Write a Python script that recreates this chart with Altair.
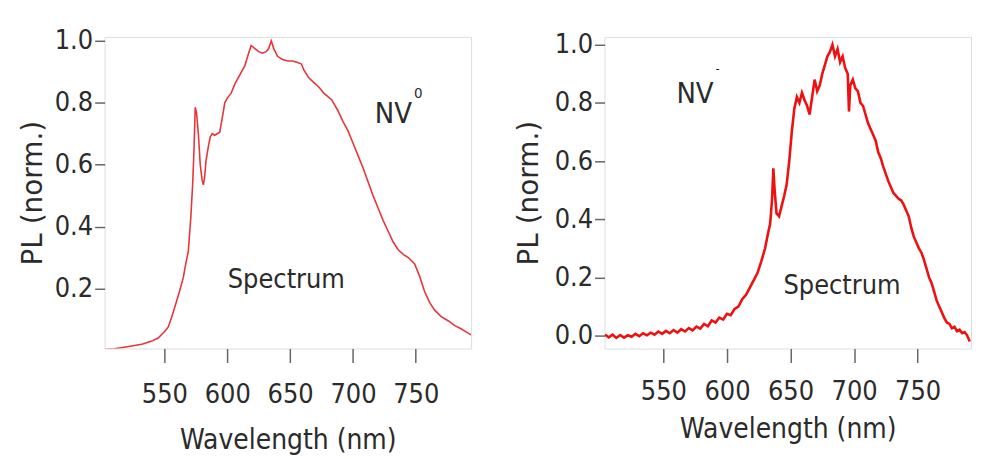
import altair as alt
import pandas as pd

# ---------------- data ----------------
nv0_wl = [502, 510, 518, 525, 532, 540, 545, 550, 553, 556, 559, 562, 565, 567, 569,
          571, 572.5, 573.5, 574.5, 575.5, 577, 578.5, 580, 581, 582, 583, 585, 586.5,
          588, 590, 592, 594, 596, 598, 600, 603, 606, 610, 614, 617, 619, 622, 625,
          628, 631, 633, 635, 637, 640, 644, 648, 652, 656, 659, 661, 665, 669, 673,
          677, 683, 688, 692, 696, 700, 704, 708, 712, 716, 720, 724, 728, 732, 736,
          740, 744, 749, 753, 757, 761, 765, 770, 776, 781, 786, 790, 794]
nv0_pl = [0.003, 0.005, 0.01, 0.015, 0.02, 0.03, 0.04, 0.06, 0.075, 0.11, 0.15, 0.19,
          0.235, 0.28, 0.32, 0.43, 0.54, 0.645, 0.785, 0.77, 0.70, 0.60, 0.55, 0.535,
          0.56, 0.61, 0.66, 0.69, 0.70, 0.695, 0.70, 0.705, 0.75, 0.80, 0.815, 0.83,
          0.86, 0.89, 0.92, 0.96, 0.985, 0.975, 0.965, 0.96, 0.965, 0.975, 1.0, 0.975,
          0.95, 0.94, 0.935, 0.935, 0.93, 0.925, 0.905, 0.88, 0.865, 0.85, 0.83, 0.81,
          0.775, 0.74, 0.71, 0.67, 0.63, 0.59, 0.545, 0.50, 0.46, 0.42, 0.385, 0.35,
          0.325, 0.31, 0.30, 0.28, 0.24, 0.19, 0.155, 0.13, 0.11, 0.095, 0.08, 0.07,
          0.06, 0.05]

nvm_wl = [504, 507, 510, 513, 516, 519, 522, 525, 528, 531, 534, 537, 540, 543, 546,
          549, 552, 555, 558, 561, 564, 567, 570, 573, 576, 579, 582, 585, 588, 591,
          594, 597, 600, 603, 606, 609, 612, 615, 618, 621, 624, 627, 630, 632, 634,
          635.5, 636.5, 637.5, 639, 641, 643, 645, 647, 649, 651, 653, 655, 657, 659,
          661, 663, 665, 667, 669, 671, 673, 675, 677, 679, 681, 683, 685, 687, 689,
          691, 693, 695, 696, 697, 699, 701, 703, 705, 707, 709, 711, 713, 715, 717,
          719, 721, 723, 725, 727, 729, 731, 733, 735, 737, 739, 741, 743, 745, 747,
          749, 751, 753, 755, 757, 759, 761, 763, 765, 767, 769, 771, 773, 775, 777,
          779, 781, 783, 785, 787, 789, 791]
nvm_pl = [0.004, -0.006, 0.003, -0.008, 0.002, -0.007, 0.001, -0.004, 0.006, -0.002,
          0.008, 0.001, 0.010, 0.003, 0.014, 0.006, 0.016, 0.008, 0.019, 0.010, 0.022,
          0.014, 0.026, 0.018, 0.031, 0.024, 0.040, 0.032, 0.052, 0.045, 0.062, 0.055,
          0.075, 0.070, 0.092, 0.100, 0.125, 0.140, 0.165, 0.190, 0.215, 0.255, 0.300,
          0.345, 0.385, 0.47, 0.575, 0.50, 0.42, 0.41, 0.445, 0.48, 0.52, 0.60, 0.70,
          0.78, 0.82, 0.80, 0.835, 0.81, 0.79, 0.76, 0.82, 0.88, 0.84, 0.86, 0.90,
          0.93, 0.96, 0.975, 1.0, 0.96, 0.985, 0.94, 0.96, 0.92, 0.90, 0.77, 0.86,
          0.88, 0.85, 0.84, 0.80, 0.79, 0.76, 0.73, 0.71, 0.69, 0.67, 0.63, 0.61,
          0.58, 0.555, 0.53, 0.51, 0.49, 0.48, 0.47, 0.465, 0.45, 0.43, 0.41, 0.37,
          0.34, 0.32, 0.30, 0.285, 0.26, 0.23, 0.20, 0.18, 0.15, 0.12, 0.10, 0.08,
          0.06, 0.045, 0.04, 0.025, 0.03, 0.015, 0.02, 0.008, 0.012, 0.0, -0.02]

x_ticks = [550, 600, 650, 700, 750]
y_ticks_left = [0.2, 0.4, 0.6, 0.8, 1.0]
y_ticks_right = [0.0, 0.2, 0.4, 0.6, 0.8, 1.0]

# annotations: main label (right-aligned at its right edge), superscript (left-aligned), caption (centred)
left_main = ("NV", 747.0, 0.763)
left_sup = ("0", 748.5, 0.83)
left_caption = ("Spectrum", 647.0, 0.228)

right_main = ("NV", 589.5, 0.832)
right_sup = ("-", 591.0, 0.915)
right_caption = ("Spectrum", 690.5, 0.171)

NARROW = "'Liberation Sans Narrow', 'DejaVu Sans Condensed', 'Arial Narrow', sans-serif"
WIDE = "'DejaVu Sans', Verdana, sans-serif"
TXT = "#2b2b2b"


def txt(item, size, align):
    d = pd.DataFrame({"wl": [item[1]], "pl": [item[2]], "t": [item[0]]})
    return alt.Chart(d).mark_text(font=NARROW, color=TXT, align=align, baseline="middle",
                                  fontSize=size).encode(x="wl:Q", y="pl:Q", text="t:N")


def panel(wl, pl, xdom, ydom, yticks, color, sw, main, sup, cap, sup_size,
          xlabel_pad, xtitle_y, ytitle_x):
    df = pd.DataFrame({"wl": wl, "pl": pl})
    x = alt.X("wl:Q",
              scale=alt.Scale(domain=xdom, nice=False, zero=False),
              axis=alt.Axis(values=x_ticks, title="Wavelength (nm)", format="d",
                            tickSize=14, labelPadding=xlabel_pad, titleBaseline="middle",
                            titleY=xtitle_y, domain=False, grid=False,
                            labelFont=NARROW, labelFontSize=27, titleFont=NARROW,
                            titleFontSize=28, titleFontWeight="normal",
                            labelColor=TXT, titleColor=TXT, tickColor="#666",
                            tickWidth=1.5))
    y = alt.Y("pl:Q",
              scale=alt.Scale(domain=ydom, nice=False, zero=False),
              axis=alt.Axis(values=yticks, title="PL  (norm.)", format=".1f",
                            tickSize=10, labelPadding=2, titleBaseline="middle",
                            titleX=ytitle_x, domain=False, grid=False,
                            labelFont=NARROW, labelFontSize=27, titleFont=WIDE,
                            titleFontSize=28, titleFontWeight="normal",
                            labelColor=TXT, titleColor=TXT, tickColor="#666",
                            tickWidth=1.5))
    line = alt.Chart(df).mark_line(color=color, strokeWidth=sw, clip=True).encode(x=x, y=y)
    return alt.layer(
        line,
        txt(main, 29, "right"),
        txt(sup, sup_size, "left"),
        txt(cap, 27, "center"),
    ).properties(width=368, height=313)


left = panel(nv0_wl, nv0_pl, [502.4, 794], [0.006, 1.013], y_ticks_left, "#e8353a", 1.6,
             left_main, left_sup, left_caption, 15, 19, 92, -71)
right = panel(nvm_wl, nvm_pl, [503.7, 792], [-0.0445, 1.027], y_ticks_right, "#ee1111", 2.6,
              right_main, right_sup, right_caption, 13, 16, 81, -75)

chart = alt.hconcat(left, right, spacing=43).properties(
    padding={"left": 11, "top": 17, "right": 5, "bottom": 5}
).configure_view(stroke="#666", strokeWidth=2).configure(background="white")

chart.save("out.html", embed_options={"renderer": "svg", "actions": False})
